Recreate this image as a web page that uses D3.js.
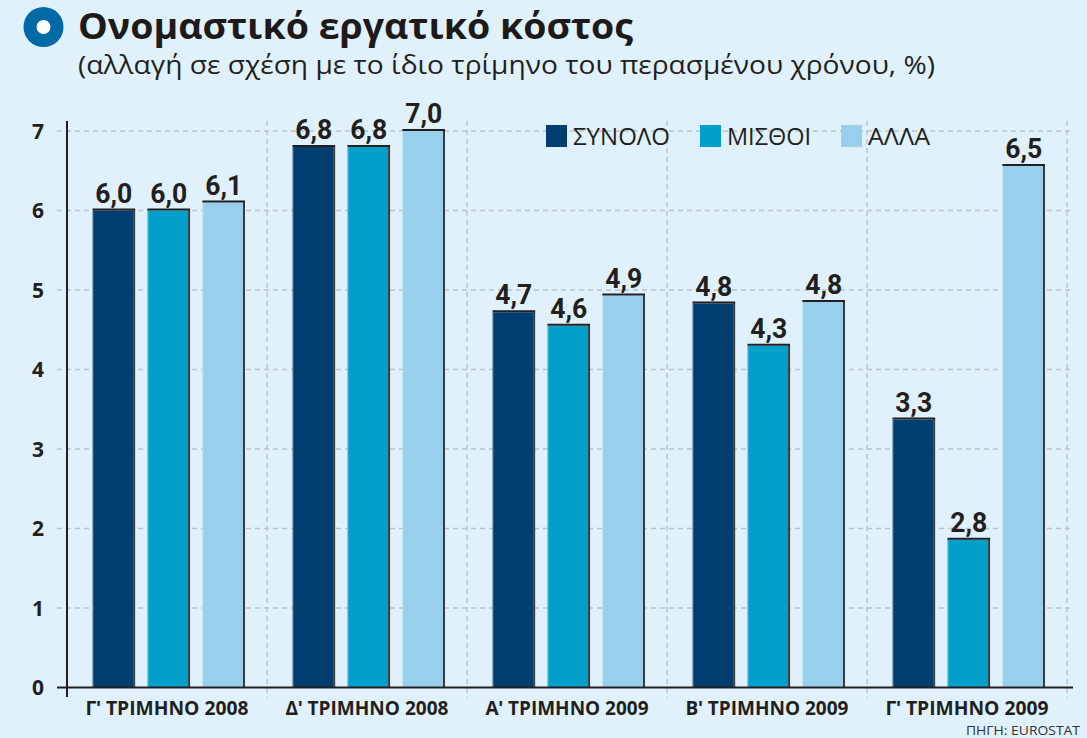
<!DOCTYPE html>
<html>
<head>
<meta charset="utf-8">
<script src="https://cdn.jsdelivr.net/npm/d3@7"></script>
<style>
  html, body { margin: 0; padding: 0; background: #fff; }
  svg { display: block; }
</style>
</head>
<body>
<svg id="chart" width="1087" height="738"></svg>
<script>
// ---- Data ----
const categories = ["Γʹ ΤΡΙΜΗΝΟ 2008", "Δʹ ΤΡΙΜΗΝΟ 2008", "Αʹ ΤΡΙΜΗΝΟ 2009", "Βʹ ΤΡΙΜΗΝΟ 2009", "Γʹ ΤΡΙΜΗΝΟ 2009"];
const seriesNames = ["ΣΥΝΟΛΟ", "ΜΙΣΘΟΙ", "ΑΛΛΑ"];
// printed values (labels above bars)
const synoloLabels = ["6,0", "6,8", "4,7", "4,8", "3,3"];
const misthoiLabels = ["6,0", "6,8", "4,6", "4,3", "2,8"];
const allaLabels = ["6,1", "7,0", "4,9", "4,8", "6,5"];
// bar heights as drawn in the picture
const synoloValues = [6.0, 6.8, 4.72, 4.83, 3.37];
const misthoiValues = [6.0, 6.8, 4.55, 4.3, 1.86];
const allaValues = [6.1, 7.0, 4.93, 4.85, 6.56];
const yTicks = [0, 1, 2, 3, 4, 5, 6, 7];
const colors = ["#003e70", "#00a0cb", "#97cfec"];

const seriesValues = [synoloValues, misthoiValues, allaValues];
const seriesLabels = [synoloLabels, misthoiLabels, allaLabels];

const svg = d3.select("#chart");
const W = 1087, H = 738;

svg.append("rect").attr("x", 0).attr("y", 0).attr("width", W).attr("height", H).attr("fill", "#e0f1fb");

// ---- Title ----
svg.append("circle").attr("cx", 43.5).attr("cy", 27).attr("r", 20).attr("fill", "#006aa7");
svg.append("circle").attr("cx", 43.5).attr("cy", 27).attr("r", 7).attr("fill", "#ffffff");
svg.append("text").attr("x", 78).attr("y", 39)
  .attr("font-family", "'Open Sans', 'Noto Sans', sans-serif").attr("font-weight", 700)
  .attr("font-size", 35).attr("fill", "#1e1a1a")
  .attr("textLength", 555).attr("lengthAdjust", "spacingAndGlyphs")
  .text("Ονομαστικό εργατικό κόστος");
svg.append("text").attr("x", 78).attr("y", 74)
  .attr("font-family", "'Open Sans', 'Noto Sans', sans-serif").attr("font-weight", 400)
  .attr("font-size", 26).attr("fill", "#231f20")
  .attr("textLength", 857).attr("lengthAdjust", "spacingAndGlyphs")
  .text("(αλλαγή σε σχέση με το ίδιο τρίμηνο του περασμένου χρόνου, %)");

// ---- Scales ----
const x0 = d3.scaleBand().domain(categories).range([67, 1067]).paddingInner(0).paddingOuter(0);
const x1 = d3.scaleBand().domain(seriesNames).range([25.5, 176]).paddingInner(0.26).paddingOuter(0);
const y = d3.scaleLinear().domain([0, 7]).range([687.5, 131]);

const gridColor = "#b9c3cb";

// horizontal gridlines
svg.append("g").selectAll("line").data(yTicks.filter(d => d > 0)).join("line")
  .attr("x1", 57).attr("x2", 1072)
  .attr("y1", d => y(d)).attr("y2", d => y(d))
  .attr("stroke", gridColor).attr("stroke-width", 1.5).attr("stroke-dasharray", "5,4");

// vertical gridlines at band boundaries
svg.append("g").selectAll("line").data(categories).join("line")
  .attr("x1", d => x0(d) + x0.bandwidth()).attr("x2", d => x0(d) + x0.bandwidth())
  .attr("y1", 121).attr("y2", 698)
  .attr("stroke", gridColor).attr("stroke-width", 1.5).attr("stroke-dasharray", "5,4");

// y tick labels
svg.append("g").selectAll("text").data(yTicks).join("text")
  .attr("x", 44).attr("y", d => y(d) + 7.5)
  .attr("text-anchor", "end")
  .attr("font-family", "'Open Sans', sans-serif").attr("font-weight", 700)
  .attr("font-size", 21).attr("fill", "#231f20")
  .text(d => d);

// ---- Legend ----
const legendX = [546, 700, 841];
const legendW = [97, 84, 62];
const legend = svg.append("g");
seriesNames.forEach((name, i) => {
  legend.append("rect").attr("x", legendX[i]).attr("y", 125).attr("width", 21).attr("height", 22)
    .attr("fill", colors[i]);
  legend.append("text").attr("x", legendX[i] + 27).attr("y", 145)
    .attr("font-family", "'Open Sans', sans-serif").attr("font-weight", 400)
    .attr("font-size", 24).attr("fill", "#231f20")
    .attr("textLength", legendW[i]).attr("lengthAdjust", "spacingAndGlyphs")
    .text(name);
});

// ---- Bars ----
const rows = [];
categories.forEach((c, ci) => {
  seriesNames.forEach((s, si) => {
    rows.push({ cat: c, ser: s, si, v: seriesValues[si][ci], label: seriesLabels[si][ci] });
  });
});

const bars = svg.append("g").selectAll("g").data(rows).join("g")
  .attr("transform", d => `translate(${x0(d.cat) + x1(d.ser)},0)`);
const bw = x1.bandwidth();

bars.append("rect")
  .attr("x", 0).attr("y", d => y(d.v))
  .attr("width", bw).attr("height", d => y(0) - y(d.v))
  .attr("fill", d => colors[d.si]);
// subtle left highlight
bars.append("line")
  .attr("x1", 0.5).attr("x2", 0.5).attr("y1", d => y(d.v)).attr("y2", y(0))
  .attr("stroke", "#ffffff").attr("stroke-opacity", 0.35).attr("stroke-width", 1);
// right shadow edge
bars.append("line")
  .attr("x1", bw + 1).attr("x2", bw + 1).attr("y1", d => y(d.v) - 1).attr("y2", y(0))
  .attr("stroke", "#3a3a3a").attr("stroke-width", 2);
// top edge
bars.append("line")
  .attr("x1", 0).attr("x2", bw + 2).attr("y1", d => y(d.v) - 1).attr("y2", d => y(d.v) - 1)
  .attr("stroke", "#231f20").attr("stroke-width", 2);

// value labels
bars.append("text")
  .attr("x", bw / 2 + 1).attr("y", d => y(d.v) - 8)
  .attr("text-anchor", "middle")
  .attr("font-family", "Roboto, 'Open Sans', sans-serif").attr("font-weight", 700)
  .attr("font-size", 27).attr("fill", "#231f20")
  .attr("textLength", 37).attr("lengthAdjust", "spacingAndGlyphs")
  .text(d => d.label);

// ---- Axes ----
svg.append("line").attr("x1", 67).attr("x2", 67).attr("y1", 121).attr("y2", 697)
  .attr("stroke", "#231f20").attr("stroke-width", 2);
svg.append("line").attr("x1", 57).attr("x2", 1073).attr("y1", y(0)).attr("y2", y(0))
  .attr("stroke", "#231f20").attr("stroke-width", 2);

// category labels
svg.append("g").selectAll("text").data(categories).join("text")
  .attr("x", d => x0(d) + x0.bandwidth() / 2).attr("y", 715)
  .attr("text-anchor", "middle")
  .attr("font-family", "'Open Sans', sans-serif").attr("font-weight", 700)
  .attr("font-size", 20).attr("fill", "#231f20")
  .attr("textLength", 163).attr("lengthAdjust", "spacingAndGlyphs")
  .text(d => d);

// source
svg.append("text").attr("x", 1080).attr("y", 735).attr("text-anchor", "end")
  .attr("font-family", "'Open Sans', sans-serif").attr("font-weight", 400)
  .attr("font-size", 13).attr("fill", "#333")
  .attr("textLength", 114).attr("lengthAdjust", "spacingAndGlyphs")
  .text("ΠΗΓΗ: EUROSTAT");
</script>
</body>
</html>
